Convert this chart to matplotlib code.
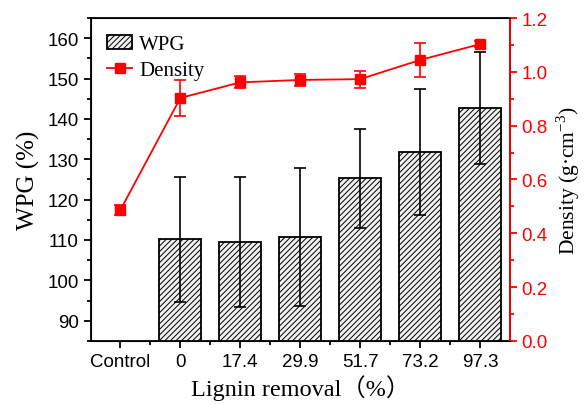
import matplotlib
matplotlib.use("Agg")
import matplotlib.pyplot as plt
import numpy as np

categories = ["Control", "0", "17.4", "29.9", "51.7", "73.2", "97.3"]
# WPG bars (no bar for Control)
wpg = [np.nan, 110.2, 109.4, 110.7, 125.3, 131.8, 142.8]
wpg_err = [np.nan, 15.5, 16.1, 17.1, 12.3, 15.5, 13.9]
density = [0.487, 0.903, 0.961, 0.970, 0.973, 1.044, 1.103]
density_err = [0.018, 0.068, 0.022, 0.021, 0.032, 0.062, 0.012]

plt.rcParams["mathtext.fontset"] = "custom"
plt.rcParams["mathtext.rm"] = "Liberation Serif"
plt.rcParams["hatch.color"] = "#6e6e6e"
plt.rcParams["hatch.linewidth"] = 0.7

tick_font = "Liberation Sans"
label_font = ["Liberation Serif", "Noto Sans CJK SC"]

fig, ax = plt.subplots(figsize=(5.84, 4.06), dpi=100)
fig.subplots_adjust(left=0.155, right=0.873, top=0.953, bottom=0.158)

x = np.arange(len(categories))
bars = ax.bar(x, wpg, width=0.7, color="#f0f0f0", edgecolor="black",
              linewidth=1.3, hatch="//////", label="WPG", zorder=2)
ax.errorbar(x, wpg, yerr=wpg_err, fmt="none", ecolor="black",
            elinewidth=1.2, capsize=4, capthick=1.2, zorder=3)

ax.set_xlim(-0.5, 6.5)
ax.set_ylim(85, 165)
ax.set_yticks(np.arange(90, 161, 10))
ax.set_yticks(np.arange(85, 166, 5), minor=True)
ax.set_xticks(x)
ax.set_xticklabels(categories)
ax.set_xticks(x[:-1] + 0.5, minor=True)
ax.tick_params(axis="both", which="major", direction="out", length=5, width=1.3,
               labelsize=13.5)
ax.tick_params(axis="both", which="minor", direction="out", length=3, width=1.3)
for lab in ax.get_xticklabels() + ax.get_yticklabels():
    lab.set_fontfamily(tick_font)
for s in ax.spines.values():
    s.set_linewidth(1.3)

ax.set_ylabel("WPG (%)", fontsize=18, family=label_font, labelpad=5)
ax.set_xlabel("Lignin removal（%）", fontsize=17.5, family=label_font, labelpad=3)

ax2 = ax.twinx()
line, = ax2.plot(x, density, color="red", linewidth=1.3, marker="s",
                 markersize=6.5, label="Density", zorder=4)
ax2.errorbar(x, density, yerr=density_err, fmt="none", ecolor="red",
             elinewidth=1.2, capsize=4, capthick=1.2)
ax2.set_ylim(0, 1.2)
ax2.set_yticks(np.arange(0, 1.21, 0.2))
ax2.set_yticks(np.arange(0, 1.21, 0.1), minor=True)
ax2.set_yticklabels([f"{v:.1f}" for v in np.arange(0, 1.21, 0.2)])
ax2.tick_params(axis="y", which="major", direction="out", length=5, width=1.3,
                colors="red", labelsize=13.5)
ax2.tick_params(axis="y", which="minor", direction="out", length=3, width=1.3,
                colors="red")
for lab in ax2.get_yticklabels():
    lab.set_fontfamily(tick_font)
ax2.spines["right"].set_color("red")
ax2.spines["right"].set_linewidth(1.3)
ax2.set_ylabel("Density (g·cm$^{-3}$)", fontsize=15.5, family=label_font,
               labelpad=5)

ax.legend([bars, line], ["WPG", "Density"], loc="upper left", frameon=False,
          prop={"family": "Liberation Serif", "size": 15},
          handlelength=1.2, handletextpad=0.35, labelspacing=0.3,
          borderaxespad=0.4)

fig.savefig("out.png", dpi=100)
